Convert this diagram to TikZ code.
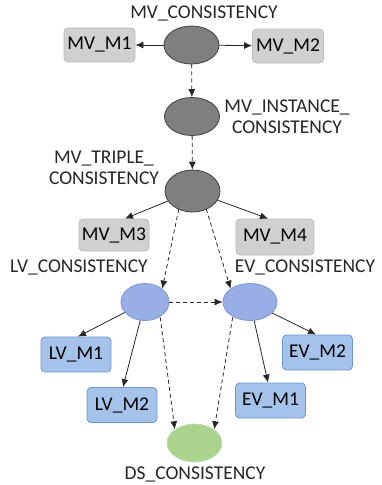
\documentclass[tikz,border=0pt]{standalone}
\usepackage{fontspec}
\setmainfont{Carlito}
\usetikzlibrary{arrows.meta,shapes.geometric}
\definecolor{grayfill}{HTML}{7F7F7F}
\definecolor{grayline}{HTML}{3F3F3F}
\definecolor{boxgray}{HTML}{D0D0D0}
\definecolor{boxgrayline}{HTML}{BBBBBB}
\definecolor{bluefill}{HTML}{98AEE4}
\definecolor{blueline}{HTML}{7C95D4}
\definecolor{boxblue}{HTML}{A5C3EA}
\definecolor{boxblueline}{HTML}{6A96CC}
\definecolor{greenfill}{HTML}{AAD48E}
\definecolor{greenline}{HTML}{C3DEB0}
\tikzset{
  every node/.style={font=\fontsize{19.5}{21}\selectfont},
  grayell/.style={ellipse, draw=grayline, fill=grayfill, line width=0.8pt, minimum width=55pt, minimum height=38pt, inner sep=0pt},
  blueell/.style={ellipse, draw=blueline, fill=bluefill, line width=0.8pt, minimum width=52pt, minimum height=37pt, inner sep=0pt},
  greenell/.style={ellipse, draw=greenline, fill=greenfill, line width=0.8pt, minimum width=55pt, minimum height=38pt, inner sep=0pt},
  graybox/.style={rectangle, rounded corners=4pt, draw=boxgrayline, fill=boxgray, line width=0.8pt, minimum width=71pt, minimum height=34pt, inner sep=2pt},
  bluebox/.style={rectangle, rounded corners=4pt, draw=boxblueline, fill=boxblue, line width=0.8pt, minimum width=70pt, minimum height=35pt, inner sep=2pt},
  lbl/.style={align=center, inner sep=0pt, text=black!85},
  solidarrow/.style={-{Latex[length=8pt,width=7pt]}, line width=0.8pt, black!85},
  dasharrow/.style={-{Latex[length=8pt,width=7pt]}, line width=0.8pt, black!85, dash pattern=on 4pt off 3pt},
}
\begin{document}
\begin{tikzpicture}[x=1pt,y=-1pt]
\useasboundingbox (0,0) rectangle (382,485);

% meta-view nodes
\node[grayell] (mvc) at (191.5,45) {};
\node[lbl] (mvcl) at (204,13) {MV\_CONSISTENCY};
\node[graybox] (mvm1) at (99.5,45) {MV\_M1};
\node[graybox] (mvm2) at (288,46) {MV\_M2};

\node[grayell] (mvi) at (192,116.5) {};
\node[lbl] (mvil) at (287,117) {MV\_INSTANCE\_\\CONSISTENCY};

\node[grayell, minimum height=42pt] (mvt) at (192.5,191) {};
\node[lbl] (mvtl) at (104,168) {MV\_TRIPLE\_\\CONSISTENCY};
\node[graybox, minimum width=70pt, minimum height=32pt] (mvm3) at (114,235) {MV\_M3};
\node[graybox, minimum width=78pt, minimum height=36pt] (mvm4) at (275,237) {MV\_M4};

% local and entity views
\node[blueell, minimum width=48pt] (lv) at (145,302) {};
\node[lbl] (lvl) at (79,267) {LV\_CONSISTENCY};
\node[blueell, minimum width=54pt] (ev) at (250,302) {};
\node[lbl] (evl) at (305,267) {EV\_CONSISTENCY};

\node[bluebox] (lvm1) at (76,354.5) {LV\_M1};
\node[bluebox] (lvm2) at (122,405) {LV\_M2};
\node[bluebox] (evm2) at (317.5,352.5) {EV\_M2};
\node[bluebox] (evm1) at (270.5,400.5) {EV\_M1};

% data-source node
\node[greenell] (ds) at (194.5,443) {};
\node[lbl] (dsl) at (195,474) {DS\_CONSISTENCY};

% connectors
\draw[solidarrow] (mvc) -- (mvm1);
\draw[solidarrow] (mvc) -- (mvm2);
\draw[dasharrow] (mvc) -- (mvi);
\draw[dasharrow] (mvi) -- (mvt);
\draw[solidarrow] (mvt) -- (mvm3.north east -| 125,0);
\draw[solidarrow] (mvt) -- (mvm4.north west -| 268,0);
\draw[dasharrow] (mvt.south west) ++(6,3) coordinate (t1) (t1) -- (lv.north east);
\draw[dasharrow] (mvt.south east) ++(-6,3) coordinate (t2) (t2) -- (ev.north west);
\draw[dasharrow] (lv) -- (ev);
\draw[solidarrow] (lv) -- (lvm1.north -| 78,0);
\draw[solidarrow] (lv) -- (lvm2.north -| 123,0);
\draw[solidarrow] (ev) -- (evm1.north -| 268,0);
\draw[solidarrow] (ev) -- (evm2.north -| 316,0);
\draw[dasharrow] (lv.south east) ++(-2,2) coordinate (l1) (l1) -- (ds.north west);
\draw[dasharrow] (ev.south west) ++(2,2) coordinate (e1) (e1) -- (ds.north east);
\end{tikzpicture}
\end{document}
